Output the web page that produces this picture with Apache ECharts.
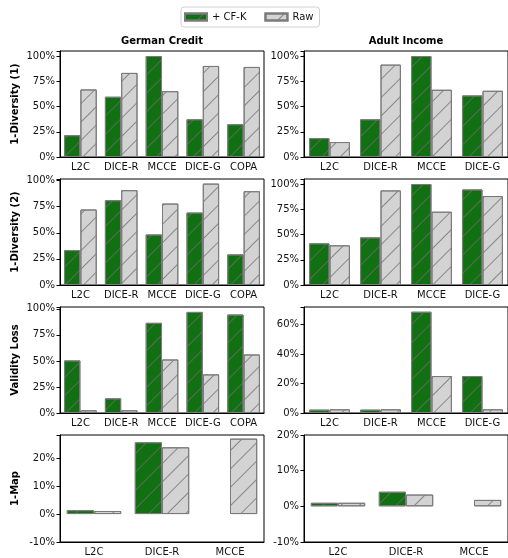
<!DOCTYPE html>
<html>
<head>
<meta charset="utf-8">
<script src="https://cdn.jsdelivr.net/npm/echarts@6/dist/echarts.min.js"></script>
<style>
html,body{margin:0;padding:0;background:#fff;}
#chart{width:508px;height:558px;}
</style>
</head>
<body>
<div id="chart"></div>
<script>
// ---- data ----
const categoriesGerman = ['L2C', 'DICE-R', 'MCCE', 'DICE-G', 'COPA'];
const categoriesAdult = ['L2C', 'DICE-R', 'MCCE', 'DICE-G'];
const categoriesMap = ['L2C', 'DICE-R', 'MCCE'];
const seriesNames = ['+ CF-K', 'Raw'];
const datasetTitles = ['German Credit', 'Adult Income'];
const metricNames = ['1-Diversity (1)', '1-Diversity (2)', 'Validity Loss', '1-Map'];

const div1GermanCF = [21.6, 59.7, 100, 37.4, 32.5];
const div1GermanRaw = [66.9, 83.3, 65.2, 90.2, 89.2];
const div1AdultCF = [18.7, 37.4, 100, 61.0];
const div1AdultRaw = [14.8, 91.5, 66.6, 65.6];
const div2GermanCF = [33.4, 81.2, 48.4, 69.4, 29.3];
const div2GermanRaw = [72.3, 90.8, 78.0, 97.1, 89.8];
const div2AdultCF = [41.3, 47.2, 100, 94.7];
const div2AdultRaw = [39.3, 93.7, 72.6, 88.1];
const valGermanCF = [50.5, 14.1, 86.6, 97.1, 94.6];
const valGermanRaw = [2.6, 2.6, 51.4, 37.1, 56.2];
const valAdultCF = [2.3, 2.3, 68.8, 25.1];
const valAdultRaw = [2.5, 2.5, 25.1, 2.5];
const mapGermanCF = [1.4, 25.7, null];
const mapGermanRaw = [1.1, 23.9, 27.0];
const mapAdultCF = [1.0, 4.1, null];
const mapAdultRaw = [1.0, 3.3, 1.8];

// y-axis ranges per panel: [min, max, interval]
const yRanges = [
  [0, 105, 25], [0, 105, 25],
  [0, 101.5, 25], [0, 105, 25],
  [0, 101.8, 25], [0, 72, 20],
  [-10, 28.3, 10], [-10, 20, 10]
];

const panels = [
  {cats: categoriesGerman, cf: div1GermanCF, raw: div1GermanRaw},
  {cats: categoriesAdult, cf: div1AdultCF, raw: div1AdultRaw},
  {cats: categoriesGerman, cf: div2GermanCF, raw: div2GermanRaw},
  {cats: categoriesAdult, cf: div2AdultCF, raw: div2AdultRaw},
  {cats: categoriesGerman, cf: valGermanCF, raw: valGermanRaw},
  {cats: categoriesAdult, cf: valAdultCF, raw: valAdultRaw},
  {cats: categoriesMap, cf: mapGermanCF, raw: mapGermanRaw},
  {cats: categoriesMap, cf: mapAdultCF, raw: mapAdultRaw}
];

// ---- layout ----
const FONT = 'DejaVu Sans';
const colLeft = [60, 304];
const colWidth = [204, 204];
const rowTop = [51, 179, 307, 435];
const rowHeight = [106, 106, 106, 107];
const GREEN = '#117011';
const LIGHT = '#d3d3d3';
const EDGE = '#7a7a7a';

function hatch(col) {
  return {
    symbol: 'rect',
    symbolSize: 1,
    dashArrayX: [1, 0],
    dashArrayY: [1, 12],
    rotation: -Math.PI / 4,
    color: col
  };
}

const grids = [], xAxes = [], yAxes = [], series = [];
panels.forEach((p, i) => {
  const r = Math.floor(i / 2), c = i % 2;
  grids.push({
    left: colLeft[c], top: rowTop[r], width: colWidth[c], height: rowHeight[r],
    show: true, borderColor: '#000', borderWidth: 1, backgroundColor: 'transparent'
  });
  xAxes.push({
    type: 'category', gridIndex: i, data: p.cats,
    axisLine: {onZero: false, lineStyle: {color: '#000', width: 1}},
    axisTick: {alignWithLabel: true, length: 3.5, lineStyle: {color: '#000'}},
    axisLabel: {color: '#111', fontFamily: FONT, fontSize: 10, margin: 5, interval: 0},
    splitLine: {show: false}
  });
  const yr = yRanges[i];
  yAxes.push({
    type: 'value', gridIndex: i, min: yr[0], max: yr[1], interval: yr[2],
    name: c === 0 ? metricNames[r] : '',
    nameLocation: 'middle', nameGap: 40,
    nameTextStyle: {fontFamily: FONT, fontSize: 10, fontWeight: 'bold', color: '#000'},
    axisLine: {show: true, lineStyle: {color: '#000', width: 1}},
    axisTick: {show: true, length: 3.5, lineStyle: {color: '#000'}},
    axisLabel: {
      color: '#111', fontFamily: FONT, fontSize: 10, margin: 5,
      formatter: (v) => {
        const q = v / yr[2];
        return Math.abs(q - Math.round(q)) < 1e-6 ? Math.round(v) + '%' : '';
      }
    },
    splitLine: {show: false}
  });
  series.push({
    type: 'bar', name: seriesNames[0], xAxisIndex: i, yAxisIndex: i, data: p.cf,
    barWidth: '40%', barGap: '0%',
    itemStyle: {color: GREEN, borderColor: EDGE, borderWidth: 1, borderRadius: 0, decal: hatch('rgba(110,110,110,0.75)')},
    emphasis: {disabled: true}, animation: false
  });
  series.push({
    type: 'bar', name: seriesNames[1], xAxisIndex: i, yAxisIndex: i, data: p.raw,
    barWidth: '40%', barGap: '0%',
    itemStyle: {color: LIGHT, borderColor: EDGE, borderWidth: 1, borderRadius: 0, decal: hatch('rgba(128,128,128,0.9)')},
    emphasis: {disabled: true}, animation: false
  });
});

const chart = echarts.init(document.getElementById('chart'), null, {renderer: 'canvas'});
chart.setOption({
  animation: false,
  backgroundColor: '#fff',
  textStyle: {fontFamily: FONT},
  legend: {
    data: seriesNames.map(n => ({name: n, icon: 'rect'})),
    top: 7, left: 181,
    itemWidth: 22, itemHeight: 7, itemGap: 18,
    padding: [5, 6, 5, 3],
    borderColor: '#d0d0d0', borderWidth: 1, borderRadius: 3,
    textStyle: {fontFamily: FONT, fontSize: 10, color: '#111'}
  },
  graphic: datasetTitles.map((t, c) => ({
    type: 'text',
    x: colLeft[c] + colWidth[c] / 2, y: 41,
    style: {text: t, font: 'bold 10px "DejaVu Sans"', fill: '#000', align: 'center', verticalAlign: 'middle'}
  })),
  grid: grids,
  xAxis: xAxes,
  yAxis: yAxes,
  series: series
});
</script>
</body>
</html>
